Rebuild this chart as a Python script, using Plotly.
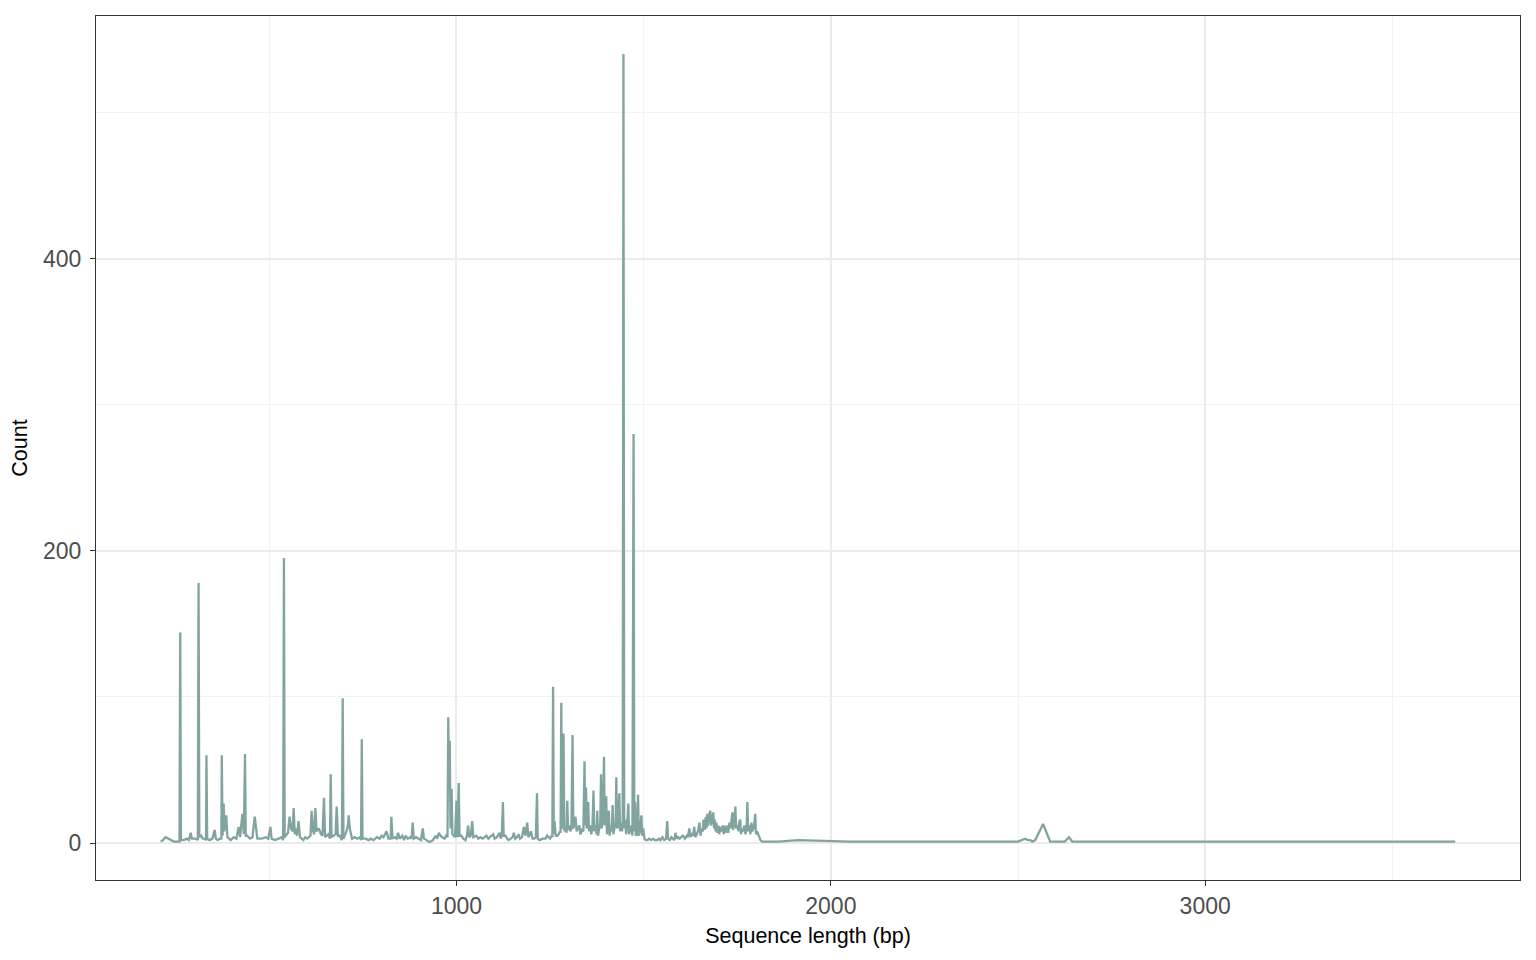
import plotly.graph_objects as go

# Sequence length (bp) and number of sequences with that length
seq_length = [
    210, 216, 223, 230, 236, 245, 255, 260, 262, 264, 271, 280, 285, 290, 293, 303,
    309, 311, 313, 318, 322, 326, 331, 332, 334, 340, 348, 354, 357, 362, 368, 372,
    373, 375, 378, 380, 385, 388, 397, 405, 412, 418, 422, 428, 432, 435, 437, 441,
    448, 455, 461, 465, 468, 480, 490, 497, 501, 503, 506, 515, 525, 533, 537, 539,
    541, 546, 550, 554, 558, 562, 565, 568, 570, 574, 578, 582, 591, 596, 601, 606,
    610, 613, 617, 620, 623, 626, 632, 638, 642, 646, 649, 653, 658, 662, 664, 666,
    672, 677, 680, 683, 688, 694, 696, 698, 701, 706, 710, 712, 715, 721, 728, 735,
    742, 745, 747, 749, 757, 765, 772, 778, 783, 788, 795, 800, 805, 810, 813, 818,
    824, 826, 829, 835, 840, 844, 848, 855, 860, 864, 870, 876, 880, 883, 886, 892,
    899, 905, 910, 913, 920, 925, 931, 937, 944, 948, 953, 957, 962, 968, 972, 976,
    978, 980, 982, 984, 987, 989, 993, 996, 1000, 1002, 1006, 1008, 1013, 1018, 1024, 1028,
    1031, 1034, 1038, 1042, 1045, 1053, 1058, 1064, 1070, 1075, 1080, 1085, 1090, 1095, 1098, 1102,
    1108, 1115, 1118, 1121, 1124, 1126, 1131, 1135, 1139, 1145, 1150, 1153, 1157, 1162, 1166, 1170,
    1175, 1180, 1184, 1189, 1192, 1196, 1199, 1203, 1208, 1212, 1215, 1217, 1222, 1230, 1238, 1242,
    1246, 1250, 1254, 1256, 1258, 1260, 1262, 1265, 1269, 1273, 1276, 1278, 1280, 1282, 1285, 1286,
    1288, 1291, 1294, 1296, 1298, 1301, 1304, 1307, 1310, 1312, 1315, 1318, 1321, 1325, 1328, 1331,
    1335, 1339, 1342, 1344, 1346, 1348, 1350, 1352, 1354, 1357, 1360, 1363, 1366, 1368, 1371, 1374,
    1376, 1378, 1381, 1384, 1386, 1388, 1391, 1394, 1396, 1398, 1400, 1402, 1405, 1407, 1409, 1412,
    1415, 1417, 1419, 1422, 1425, 1427, 1429, 1432, 1435, 1437, 1440, 1442, 1444, 1446, 1448, 1451,
    1453, 1456, 1459, 1461, 1464, 1467, 1470, 1473, 1475, 1477, 1479, 1482, 1485, 1487, 1490, 1494,
    1496, 1499, 1502, 1506, 1510, 1515, 1520, 1525, 1530, 1537, 1541, 1545, 1550, 1555, 1560, 1563,
    1565, 1570, 1574, 1578, 1582, 1585, 1588, 1592, 1596, 1600, 1605, 1610, 1615, 1618, 1622, 1625,
    1628, 1632, 1635, 1638, 1642, 1645, 1649, 1652, 1655, 1658, 1660, 1663, 1666, 1668, 1670, 1672,
    1675, 1678, 1680, 1683, 1686, 1688, 1690, 1692, 1694, 1697, 1700, 1702, 1705, 1708, 1711, 1714,
    1716, 1719, 1721, 1724, 1726, 1729, 1732, 1735, 1737, 1739, 1742, 1745, 1747, 1750, 1753, 1755,
    1758, 1760, 1763, 1766, 1769, 1772, 1775, 1777, 1779, 1782, 1785, 1788, 1790, 1793, 1795, 1798,
    1800, 1803, 1806, 1809, 1812, 1816, 1820, 1860, 1913, 1960, 2050, 2500, 2510, 2519, 2526, 2533,
    2538, 2546, 2567, 2586, 2625, 2636, 2645, 3668,
]
count = [
    1, 2, 4, 3, 2, 1, 1, 1, 144, 2, 2, 3, 2, 7, 3, 3,
    2, 178, 4, 5, 3, 3, 2, 60, 3, 2, 3, 9, 3, 2, 3, 3,
    60, 5, 27, 8, 19, 4, 2, 4, 3, 11, 4, 20, 6, 61, 5, 5,
    3, 4, 18, 6, 3, 3, 4, 3, 10, 11, 3, 2, 3, 4, 2, 195,
    4, 6, 7, 18, 10, 8, 24, 6, 10, 5, 15, 4, 2, 4, 3, 4,
    5, 22, 8, 6, 24, 8, 10, 6, 5, 31, 4, 5, 6, 3, 47, 4,
    5, 6, 25, 5, 5, 2, 99, 3, 5, 8, 12, 19, 10, 3, 4, 3,
    4, 2, 71, 3, 3, 2, 3, 2, 3, 4, 3, 5, 4, 6, 8, 3,
    3, 18, 3, 4, 3, 7, 3, 5, 2, 5, 3, 4, 3, 14, 3, 4,
    3, 2, 10, 3, 2, 1, 1, 2, 5, 3, 7, 5, 4, 3, 5, 4,
    86, 40, 70, 10, 37, 6, 5, 4, 29, 4, 41, 5, 5, 3, 2, 5,
    12, 4, 5, 15, 4, 5, 3, 4, 3, 4, 5, 3, 4, 5, 6, 3,
    4, 7, 3, 5, 28, 5, 5, 3, 2, 3, 4, 7, 3, 4, 6, 3,
    4, 11, 5, 14, 4, 6, 8, 3, 3, 4, 34, 3, 2, 3, 3, 5,
    4, 3, 5, 4, 107, 6, 15, 5, 5, 6, 8, 7, 96, 10, 12, 75,
    8, 10, 7, 29, 9, 12, 8, 10, 74, 10, 12, 18, 8, 10, 12, 6,
    9, 8, 56, 12, 38, 10, 14, 28, 8, 12, 6, 10, 36, 8, 12, 6,
    22, 5, 10, 14, 47, 10, 16, 59, 12, 18, 32, 6, 14, 22, 5, 12,
    8, 26, 6, 10, 14, 45, 10, 12, 34, 8, 14, 8, 12, 540, 10, 16,
    6, 12, 27, 6, 9, 12, 5, 280, 8, 28, 5, 6, 33, 5, 8, 19,
    5, 10, 3, 2, 2, 3, 2, 3, 2, 2, 3, 2, 4, 2, 3, 15,
    3, 2, 4, 3, 2, 7, 3, 4, 3, 4, 5, 3, 5, 4, 10, 4,
    6, 5, 11, 4, 6, 8, 14, 5, 10, 8, 16, 9, 18, 10, 20, 12,
    19, 22, 12, 18, 21, 10, 16, 8, 14, 7, 12, 6, 11, 8, 12, 6,
    12, 7, 10, 12, 7, 14, 10, 16, 21, 9, 14, 25, 10, 12, 8, 14,
    16, 6, 10, 8, 12, 6, 10, 28, 8, 12, 6, 14, 8, 10, 12, 20,
    6, 8, 6, 4, 2, 1, 1, 1, 2, 1.5, 1, 1, 2, 3, 2, 2,
    1, 2, 13, 1, 1, 4, 1, 1,
]

x_ticks = [1000, 2000, 3000]
x_minor = [500, 1500, 2500, 3500]
y_ticks = [0, 200, 400]
y_minor = [100, 300, 500]

LINE_COLOR = "#81A4A1"
FONT = "Liberation Sans, Arial, Helvetica, sans-serif"

fig = go.Figure(
    go.Scatter(
        x=seq_length,
        y=count,
        mode="lines",
        line=dict(color=LINE_COLOR, width=2.3),
        hoverinfo="x+y",
    )
)

axis_common = dict(
    showline=True,
    linecolor="#333333",
    linewidth=1.2,
    mirror=True,
    ticks="outside",
    ticklen=5,
    tickwidth=1.2,
    tickcolor="#333333",
    showgrid=True,
    gridcolor="#EBEBEB",
    gridwidth=1.8,
    zeroline=False,
    tickfont=dict(family=FONT, size=23, color="#4D4D4D"),
)

fig.update_layout(
    width=1536,
    height=960,
    paper_bgcolor="white",
    plot_bgcolor="white",
    showlegend=False,
    margin=dict(l=88, r=24, t=8, b=88),
    font=dict(family=FONT, color="black"),
    xaxis=dict(
        range=[37, 3841],
        tickvals=x_ticks,
        ticktext=[str(v) for v in x_ticks],
        minor=dict(tickvals=x_minor, showgrid=True, gridcolor="#F2F2F2", gridwidth=1, ticks=""),
        title=dict(text="Sequence length (bp)", font=dict(family=FONT, size=21.5, color="black"), standoff=10),
        automargin=False,
        **axis_common,
    ),
    yaxis=dict(
        range=[-25.3, 566],
        tickvals=y_ticks,
        ticktext=[str(v) for v in y_ticks],
        minor=dict(tickvals=y_minor, showgrid=True, gridcolor="#F2F2F2", gridwidth=1, ticks=""),
        title=dict(text="Count", font=dict(family=FONT, size=21.5, color="black"), standoff=12),
        automargin=False,
        ticklabelstandoff=4,
        **axis_common,
    ),
)

fig.write_html("out.html")
